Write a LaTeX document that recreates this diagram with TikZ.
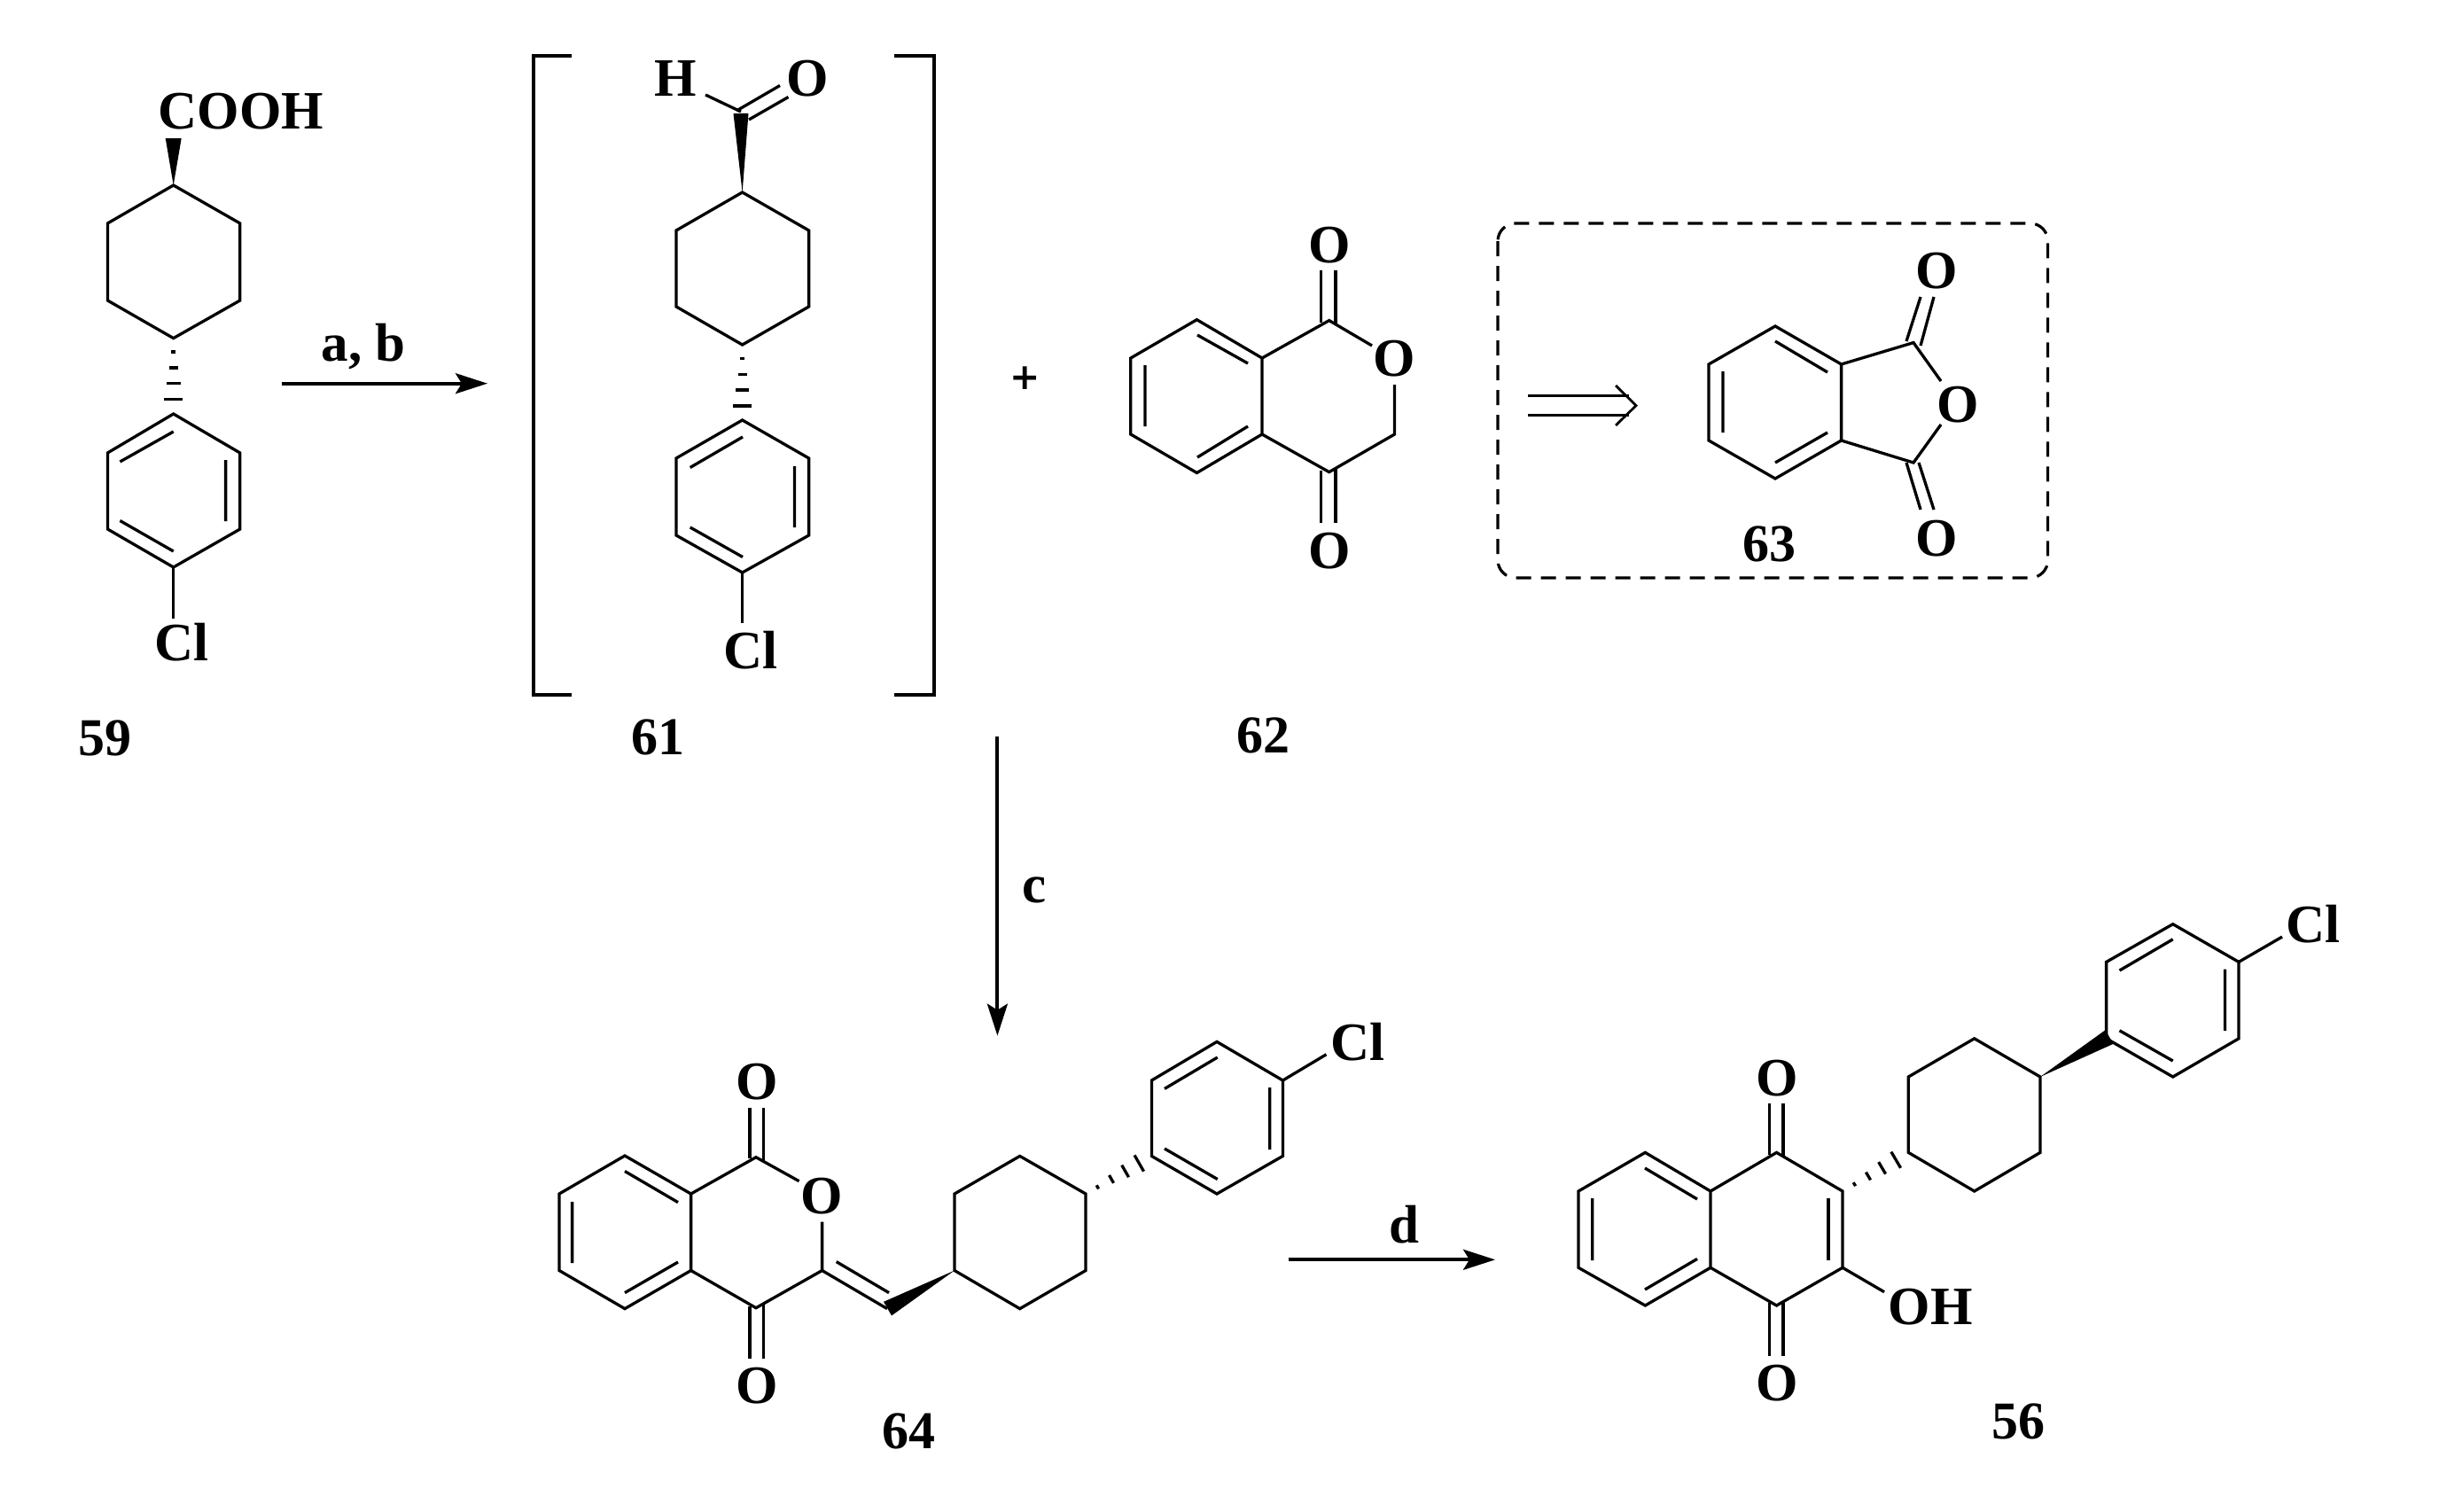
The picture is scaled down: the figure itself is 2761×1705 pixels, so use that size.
\documentclass[tikz,border=0pt]{standalone}
\usepackage{fontspec}
\setmainfont{Liberation Serif}
\newfontfamily\plusfont{DejaVu Sans}
\usetikzlibrary{calc,arrows.meta}
\newcommand{\hashbond}[2]{%
  \foreach \tt [evaluate=\tt as \ww using 13*\tt] in {.18,.39,.60,.81}
    \draw[bond] ($(#1)!\tt!(#2)!\ww pt!90:(#2)$) -- ($(#1)!\tt!(#2)!\ww pt!-90:(#2)$);}
\newcommand{\wedgebond}[3]{%
  \fill (#1) -- ($(#2)!#3 pt!90:(#1)$) -- ($(#2)!#3 pt!-90:(#1)$) -- cycle;}
\tikzset{
  bond/.style={line width=3.3pt,line cap=butt,line join=miter},
  rxn/.style={line width=3.9pt,-{Stealth[length=36pt,width=23pt,inset=7pt]}},
  atom/.style={inner sep=0pt,anchor=base,font=\bfseries\fontsize{61}{61}\selectfont},
  cmpd/.style={inner sep=0pt,anchor=base,font=\bfseries\fontsize{60}{60}\selectfont},
}
\begin{document}
\begin{tikzpicture}[x=1pt,y=-1pt]
\useasboundingbox (0,0) rectangle (2761,1705);
\fill[white] (0,0) rectangle (2761,1705);

% --- 59
\draw[bond] (195.7,209) -- (270.8,252) -- (270.8,339) -- (195.7,381.6) -- (121.4,339) -- (121.4,252) -- cycle;
\coordinate (a59) at (195.7,209); \coordinate (b59) at (195.7,156);
\wedgebond{a59}{b59}{9}
\coordinate (c59) at (195.7,381.6); \coordinate (d59) at (195.7,467);
\hashbond{c59}{d59}
\draw[bond] (195.7,467) -- (270.8,511) -- (270.8,597) -- (195.7,640) -- (121.4,597) -- (121.4,511) -- cycle;
\draw[bond] (135.4,521) -- (195.7,487) (254.6,519) -- (254.6,588) (135.4,587.5) -- (195.7,622);
\draw[bond] (195.7,640) -- (195.7,697.5);
\node[atom] (cooh) at (272,145) {COOH};
\node[atom] (cl59) at (205,745) {Cl};
\node[cmpd] (n59) at (118,852) {59};

% --- arrow a,b
\coordinate (abS) at (318,432.7); \coordinate (abE) at (550,432.7);
\draw[rxn] (abS) -- (abE);
\node[atom] (lab) at (410,407) {a, b};

% --- bracket
\draw[bond] (645,63) -- (602,63) -- (602,784) -- (645,784);
\draw[bond] (1009,63) -- (1054,63) -- (1054,784) -- (1009,784);

% --- 61
\draw[bond] (837.6,217) -- (912.6,260) -- (912.6,346) -- (837.6,389) -- (763,346) -- (763,260) -- cycle;
\coordinate (a61) at (837.6,217); \coordinate (b61) at (836,128);
\wedgebond{a61}{b61}{8.5}
\coordinate (c61) at (837.6,389); \coordinate (d61) at (837.6,474);
\hashbond{c61}{d61}
\draw[bond] (837.6,474) -- (912.6,517) -- (912.6,604) -- (837.6,646) -- (763,604) -- (763,517) -- cycle;
\draw[bond] (778.7,527.5) -- (838,493) (896.5,526) -- (896.5,595) (778.7,595) -- (838,628.5);
\draw[bond] (837.6,646) -- (837.6,703);
\draw[bond] (836,126) -- (796,107) (831,125) -- (880,96.5) (845,135) -- (889.5,109.5);
\node[atom] (h61) at (762,108) {H};
\node[atom] (o61) at (911,108) {O};
\node[atom] (cl61) at (847,754) {Cl};
\node[cmpd] (n61) at (742,851) {61};

% --- plus
\node[inner sep=0pt,font=\plusfont\bfseries\fontsize{41}{41}\selectfont] (plus) at (1157,427) {+};

% --- 62
\draw[bond] (1350.4,360.7) -- (1424,404) -- (1424,490) -- (1350.4,533.5) -- (1275.8,490) -- (1275.8,404) -- cycle;
\draw[bond] (1351,378) -- (1408,410) (1351,516) -- (1408,481) (1292,412) -- (1292,481);
\draw[bond] (1424,404) -- (1499.7,361.6) -- (1548,390);
\draw[bond] (1424,490) -- (1499.7,532.6) -- (1573.5,490) -- (1573.5,434);
\draw[bond] (1490.5,305) -- (1490.5,364) (1507,305) -- (1507,366);
\draw[bond] (1490.5,531) -- (1490.5,590) (1507,529) -- (1507,590);
\node[atom] (o62a) at (1500,296) {O};
\node[atom] (o62b) at (1573,424) {O};
\node[atom] (o62c) at (1500,641) {O};
\node[cmpd] (n62) at (1425,849) {62};

% --- dashed box
\draw[line width=3.2pt,dash pattern=on 17pt off 11pt,rounded corners=20pt] (1690,252) rectangle (2310.6,652);

% --- retro arrow
\draw[line width=3.6pt] (1724.4,446.4) -- (1838,446.4) (1724.4,468.3) -- (1838,468.3);
\draw[line width=2.8pt,line join=miter] (1823,435) -- (1846,457.6) -- (1823,480);

% --- 63
\draw[bond] (2003,368) -- (2077.6,411) -- (2077.6,497) -- (2003,540) -- (1928,497) -- (1928,411) -- cycle;
\draw[bond] (2003,385) -- (2062,420) (2003,522) -- (2062,488) (1944,419) -- (1944,488);
\draw[bond] (2077.6,411) -- (2159,386.6) -- (2190,430);
\draw[bond] (2077.6,497) -- (2159,522) -- (2190,479);
\draw[bond] (2151,385) -- (2167,335) (2167,390) -- (2182,335);
\draw[bond] (2151,522) -- (2167,575) (2165,522) -- (2182,575);
\node[atom] (o63a) at (2185,325) {O};
\node[atom] (o63b) at (2209,476) {O};
\node[atom] (o63c) at (2185,627) {O};
\node[cmpd] (n63) at (1996,633) {63};

% --- arrow c
\coordinate (cS) at (1125.4,831); \coordinate (cE) at (1125.4,1168.6);
\draw[rxn] (cS) -- (cE);
\node[atom] (lc) at (1167.5,1018) {c};

% --- 64
\draw[bond] (705,1304) -- (779.6,1347) -- (779.6,1433.5) -- (705,1476.6) -- (631,1433.5) -- (631,1347) -- cycle;
\draw[bond] (705,1321.5) -- (765,1356.6) (705,1458.6) -- (765,1424) (645.6,1356) -- (645.6,1425);
\draw[bond] (779.6,1347) -- (853,1305.7) -- (901.6,1332.7);
\draw[bond] (779.6,1433.5) -- (853,1475.7) -- (927.6,1433.5) -- (927.6,1378.6);
\draw[bond] (846,1249.5) -- (846,1307) (861.7,1249.5) -- (861.7,1310);
\draw[bond] (846,1474) -- (846,1533) (861.7,1471) -- (861.7,1533);
\draw[bond] (927.6,1433.5) -- (1001,1476.6) (943.7,1423.6) -- (1003,1458.6);
\coordinate (a64) at (1077,1433.5); \coordinate (b64) at (1001.5,1476.6);
\wedgebond{a64}{b64}{9}
\draw[bond] (1077,1347) -- (1150.7,1304.4) -- (1225,1347) -- (1225,1433.5) -- (1150.7,1476.6) -- (1077,1433.5) -- cycle;
\coordinate (c64) at (1225,1347); \coordinate (d64) at (1299.4,1304.4);
\hashbond{c64}{d64}
\draw[bond] (1373,1175.4) -- (1447.4,1219) -- (1447.4,1304.4) -- (1373,1347) -- (1299.4,1304.4) -- (1299.4,1219) -- cycle;
\draw[bond] (1314,1228.4) -- (1373.7,1193) (1432.7,1227) -- (1432.7,1297) (1314,1296) -- (1373.7,1330.5);
\draw[bond] (1447.4,1219) -- (1496.5,1189.7);
\node[atom] (o64a) at (854,1240) {O};
\node[atom] (o64b) at (927,1369) {O};
\node[atom] (o64c) at (854,1583) {O};
\node[atom] (cl64) at (1532,1196) {Cl};
\node[cmpd] (n64) at (1025,1634) {64};

% --- arrow d
\coordinate (dS) at (1453.7,1421.3); \coordinate (dE) at (1687,1421.3);
\draw[rxn] (dS) -- (dE);
\node[atom] (ld) at (1584,1402) {d};

% --- 56
\draw[bond] (1856.3,1300.4) -- (1930,1344) -- (1930,1430.3) -- (1856.3,1473) -- (1781,1430.3) -- (1781,1344) -- cycle;
\draw[bond] (1856,1318) -- (1915,1353) (1856,1455) -- (1915,1420.4) (1796.8,1352) -- (1796.8,1422);
\draw[bond] (1930,1344) -- (2004.5,1300.4) -- (2079,1344) -- (2079,1430.3) -- (2004.5,1473) -- (1930,1430.3);
\draw[bond] (2063,1352) -- (2063,1422);
\draw[bond] (2079,1430.3) -- (2126,1457.7);
\draw[bond] (1996.3,1245) -- (1996.3,1303) (2012,1245) -- (2012,1305);
\draw[bond] (1996.3,1470) -- (1996.3,1530) (2012,1470) -- (2012,1530);
\coordinate (c56) at (2079,1344); \coordinate (d56) at (2153.3,1300.4);
\hashbond{c56}{d56}
\draw[bond] (2153.3,1215) -- (2227.7,1171.8) -- (2302,1215) -- (2302,1300.4) -- (2227.7,1344) -- (2153.3,1300.4) -- cycle;
\coordinate (a56) at (2302,1215); \coordinate (b56) at (2380,1170);
\wedgebond{a56}{b56}{9}
\draw[bond] (2451.7,1042.7) -- (2526,1085.4) -- (2526,1171.8) -- (2451.7,1215) -- (2376.6,1171.8) -- (2376.6,1085.4) -- cycle;
\draw[bond] (2391.5,1095) -- (2451.7,1059.8) (2510.5,1093.5) -- (2510.5,1162.8) (2391.5,1162.8) -- (2451.7,1197);
\draw[bond] (2526,1085.4) -- (2575,1057);
\node[atom] (o56a) at (2005,1236) {O};
\node[atom] (o56b) at (2005,1580) {O};
\node[atom] (oh56) at (2178,1494) {OH};
\node[atom] (cl56) at (2610,1063) {Cl};
\node[cmpd] (n56) at (2277,1623) {56};
\end{tikzpicture}
\end{document}
